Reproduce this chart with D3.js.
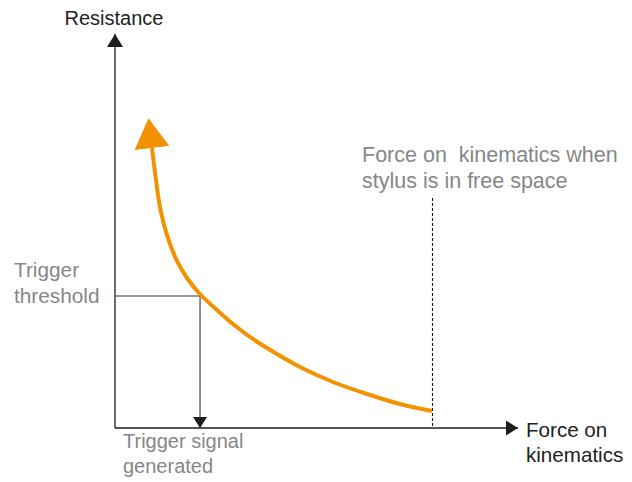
<!DOCTYPE html>
<html>
<head>
<meta charset="utf-8">
<script src="https://cdn.jsdelivr.net/npm/d3@7"></script>
<style>
  html, body { margin: 0; padding: 0; background: #fff; }
  svg { display: block; }
  text { font-family: "Liberation Sans", Arial, Helvetica, sans-serif; white-space: pre; }
</style>
</head>
<body>
<script>
// ---- data (domain units, both axes 0..100) ----
const curveX = [9.18, 10.17, 11.29, 12.90, 15.38, 17.87, 20.84, 25.56, 29.28, 33.50, 37.72, 45.91, 54.09, 62.53, 70.72, 78.66];
const curveY = [71.07, 62.94, 55.33, 48.98, 42.39, 38.07, 34.26, 29.70, 26.40, 23.10, 20.30, 15.48, 11.68, 8.63, 6.09, 4.31];
const axisMax = [100, 100];            // [x, y] end of axes (arrow tips)
const triggerPoint = [21.1, 33.5];      // [force, resistance] where threshold is reached
const freeSpace = [78.66, 58.4];        // [force, top of dashed marker]
const yAxisTitle = ["Resistance"];
const xAxisTitle = ["Force on", "kinematics"];
const thresholdLabel = ["Trigger", "threshold"];
const signalLabel = ["Trigger signal", "generated"];
const freeSpaceLabel = ["Force on  kinematics when", "stylus is in free space"];

const W = 632, H = 482;
const svg = d3.select("body").append("svg").attr("width", W).attr("height", H);

const x = d3.scaleLinear().domain([0, 100]).range([115, 518]);
const y = d3.scaleLinear().domain([0, 100]).range([428, 34]);

const defs = svg.append("defs");
function marker(id, w, l, color) {
  defs.append("marker")
    .attr("id", id)
    .attr("markerUnits", "userSpaceOnUse")
    .attr("viewBox", `0 0 ${l} ${w}`)
    .attr("refX", l).attr("refY", w / 2)
    .attr("markerWidth", l).attr("markerHeight", w)
    .attr("orient", "auto")
    .append("path")
    .attr("d", `M0,0L${l},${w / 2}L0,${w}Z`)
    .attr("fill", color);
}
marker("axArrowY", 16, 13, "#1d1d1b");
marker("axArrowX", 15, 12, "#1d1d1b");
marker("trigArrow", 14, 11, "#1d1d1b");

// orange arrowhead at start of curve (tip pointing away from path)
defs.append("marker")
  .attr("id", "curveArrow")
  .attr("markerUnits", "userSpaceOnUse")
  .attr("viewBox", "0 0 30 35")
  .attr("refX", 0).attr("refY", 17.5)
  .attr("markerWidth", 30).attr("markerHeight", 35)
  .attr("orient", "auto-start-reverse")
  .append("path")
  .attr("d", "M0,0L30,17.5L0,35Z")
  .attr("fill", "#f39200");

const dark = "#1d1d1b";
const grey = "#878787";

// axes
svg.append("line")
  .attr("x1", x(0)).attr("y1", y(0))
  .attr("x2", x(0)).attr("y2", y(axisMax[1]))
  .attr("stroke", dark).attr("stroke-width", 1.3)
  .attr("marker-end", "url(#axArrowY)");
svg.append("line")
  .attr("x1", x(0)).attr("y1", y(0))
  .attr("x2", x(axisMax[0])).attr("y2", y(0))
  .attr("stroke", dark).attr("stroke-width", 1.3)
  .attr("marker-end", "url(#axArrowX)");

// threshold lines
svg.append("path")
  .attr("d", `M${x(0)},${y(triggerPoint[1])}H${x(triggerPoint[0])}`)
  .attr("fill", "none").attr("stroke", "#333").attr("stroke-width", 1.1);
svg.append("line")
  .attr("x1", x(triggerPoint[0])).attr("y1", y(triggerPoint[1]))
  .attr("x2", x(triggerPoint[0])).attr("y2", y(0))
  .attr("stroke", "#333").attr("stroke-width", 1.1)
  .attr("marker-end", "url(#trigArrow)");

// dashed free-space marker
svg.append("line")
  .attr("x1", x(freeSpace[0]) + 0.5).attr("y1", y(freeSpace[1]))
  .attr("x2", x(freeSpace[0]) + 0.5).attr("y2", y(0))
  .attr("stroke", "#111").attr("stroke-width", 1.1)
  .attr("stroke-dasharray", "3,2");

// curve
const pts = curveX.map((v, i) => [v, curveY[i]]);
const line = d3.line().x(d => x(d[0])).y(d => y(d[1])).curve(d3.curveCatmullRom.alpha(0.5));
svg.append("path")
  .attr("d", line(pts))
  .attr("fill", "none")
  .attr("stroke", "#f39200")
  .attr("stroke-width", 4)
  .attr("marker-start", "url(#curveArrow)");

// labels
function multiline(lines, px, py, color, anchor, lh, size) {
  const t = svg.append("text").attr("fill", color).attr("text-anchor", anchor || "start")
    .style("font-size", (size || 20) + "px");
  lines.forEach((s, i) => {
    t.append("tspan").attr("x", px).attr("y", py + i * (lh || 25)).text(s);
  });
  return t;
}
multiline(yAxisTitle, x(0) - 1, 25, "#222", "middle", 25, 20);
multiline(xAxisTitle, x(axisMax[0]) + 8, 437, "#222", "start", 25, 20.6);
multiline(thresholdLabel, 14, 277, grey, "start", 26, 20.8);
multiline(signalLabel, 123, 448, grey, "start", 25, 20);
multiline(freeSpaceLabel, 362, 162, grey, "start", 26, 21.5);
</script>
</body>
</html>
